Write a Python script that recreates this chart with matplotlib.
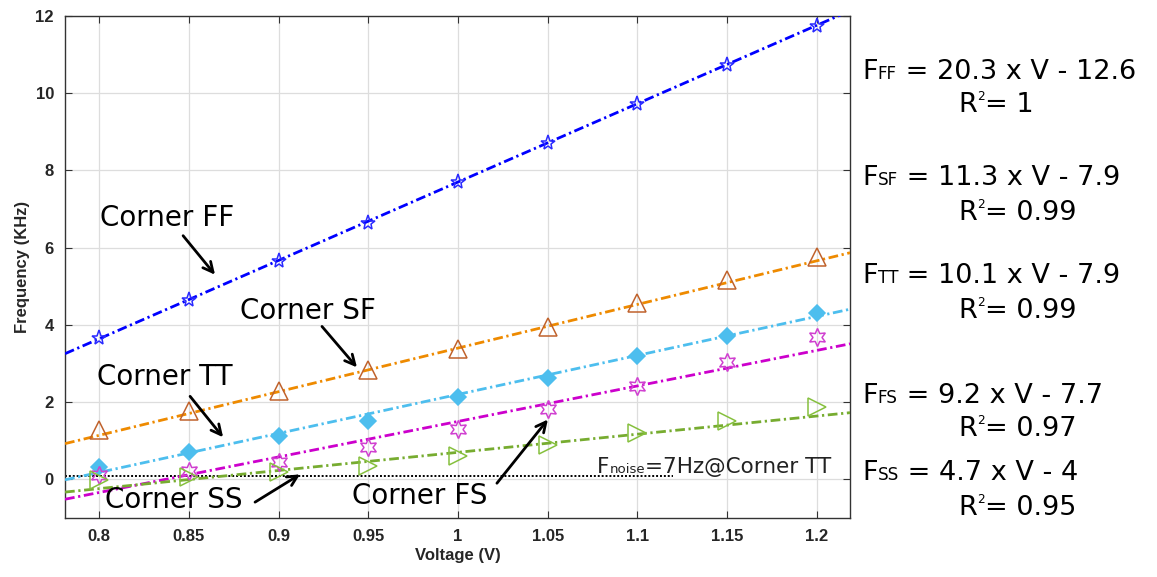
import numpy as np
import matplotlib.pyplot as plt

plt.rcParams['font.family'] = 'DejaVu Sans'
plt.rcParams['mathtext.fontset'] = 'dejavusans'

# data
volt = [0.8, 0.85, 0.9, 0.95, 1.0, 1.05, 1.1, 1.15, 1.2]
f_ff = [3.65, 4.65, 5.65, 6.65, 7.7, 8.7, 9.72, 10.73, 11.75]
f_sf = [1.28, 1.78, 2.28, 2.83, 3.38, 3.95, 4.56, 5.16, 5.75]
f_tt = [0.33, 0.71, 1.13, 1.5, 2.13, 2.63, 3.2, 3.71, 4.31]
f_fs = [0.1, 0.22, 0.45, 0.83, 1.3, 1.82, 2.43, 3.04, 3.69]
f_ss = [-0.02, 0.05, 0.18, 0.35, 0.6, 0.89, 1.19, 1.52, 1.87]

corners = ['FF', 'SF', 'TT', 'FS', 'SS']
slopes = [20.3, 11.3, 10.1, 9.2, 4.7]
intercepts = [-12.6, -7.9, -7.9, -7.7, -4]
r2 = ['1', '0.99', '0.99', '0.97', '0.95']
noise_level = 0.08  # drawn level of the 7 Hz noise floor

series = [f_ff, f_sf, f_tt, f_fs, f_ss]
line_cols = ['#0000ff', '#ee8a00', '#4dbeee', '#cc00cc', '#77ac30']
mark_cols = ['#2a2aff', '#c0622c', '#4dbeee', '#d040d0', '#86c03e']
markers = ['*', '^', 'D', (6, 1, 0), '>']
msizes = [11, 13, 8, 13, 13]
filled = [False, False, True, False, False]

W, H = 1157, 577
fig = plt.figure(figsize=(W / 100, H / 100), dpi=100)
ax = fig.add_axes([0.0562, 0.1023, 0.6785, 0.870])
renderer = fig.canvas.get_renderer()


def sub_text(px, py, base, sub, rest, size, rise=0, **kw):
    # text with a small letter group after the base, on the baseline (or raised)
    t = fig.text(px / W, 1 - py / H, base, fontsize=size, va='baseline', **kw)
    x = t.get_window_extent(renderer).x1
    t = fig.text(x / W, 1 - (py - rise) / H, sub, fontsize=size * (0.62 if rise == 0 else 0.45),
                 va='baseline', **kw)
    x = t.get_window_extent(renderer).x1
    fig.text(x / W, 1 - py / H, rest, fontsize=size, va='baseline', **kw)


xlim = (0.781, 1.2185)
xx = np.array(xlim)
for i in range(5):
    ax.plot(xx, slopes[i] * xx + intercepts[i], color=line_cols[i], lw=2,
            linestyle=(0, (3.5, 1.3, 0.8, 1.3)), zorder=3)
    ax.plot(volt, series[i], linestyle='none', marker=markers[i], ms=msizes[i],
            markerfacecolor=mark_cols[i] if filled[i] else 'none',
            markeredgecolor=mark_cols[i], markeredgewidth=1.1, zorder=4)

ax.plot([xlim[0], 1.12], [noise_level, noise_level], color='black', lw=1.4,
        linestyle=(0, (1, 1)), zorder=2)

ax.set_xlim(xlim)
ax.set_ylim(-1, 12)
ax.set_xticks(volt)
ax.set_xticklabels(['0.8', '0.85', '0.9', '0.95', '1', '1.05', '1.1', '1.15', '1.2'])
ax.set_yticks([0, 2, 4, 6, 8, 10, 12])
ax.grid(True, color='#dddddd', lw=0.9)
ax.set_axisbelow(True)
ax.tick_params(direction='in', top=True, right=True, length=5, color='#333333',
               labelsize=12, labelcolor='#262626', pad=8)
for lab in ax.get_xticklabels() + ax.get_yticklabels():
    lab.set_fontweight('bold')
    lab.set_family('Liberation Sans')
for s in ax.spines.values():
    s.set_color('#333333')
    s.set_linewidth(1)
ax.set_xlabel('Voltage (V)', fontsize=12, fontweight='bold', color='#262626',
              family='Liberation Sans', labelpad=3)
ax.set_ylabel('Frequency (KHz)', fontsize=12, fontweight='bold', color='#262626',
              family='Liberation Sans', labelpad=4)

# corner labels with arrows (text pos, arrow tail, arrow head)
arr = dict(arrowstyle='->', color='black', lw=2, mutation_scale=18, shrinkA=0, shrinkB=0)
ann = [('Corner FF', (0.8006, 6.78), (0.8468, 6.31), (0.8646, 5.30)),
       ('Corner SF', (0.8786, 4.37), (0.9242, 3.96), (0.9437, 2.90)),
       ('Corner TT', (0.7989, 2.66), (0.8507, 2.15), (0.8691, 1.09)),
       ('Corner SS', (0.8033, -0.54), (0.8869, -0.59), (0.912, 0.13)),
       ('Corner FS', (0.941, -0.44), (1.0217, -0.10), (1.0501, 1.55))]
for txt, tpos, tail, head in ann:
    ax.text(tpos[0], tpos[1], txt, fontsize=20, ha='left', va='center', zorder=6)
    ax.annotate('', xy=head, xytext=tail, arrowprops=arr, zorder=6)

# noise floor label
sub_text(597, 473, 'F', 'noise', '=7Hz@Corner TT', 15.5, color='#222222')

# fit equations on the right
eq_base = [79, 185, 283, 403, 480]
r2_base = [112, 220, 318, 436, 515]
for i in range(5):
    sign = '-' if intercepts[i] < 0 else '+'
    sub_text(862, eq_base[i], 'F', corners[i],
             ' = %g x V %s %g' % (slopes[i], sign, abs(intercepts[i])), 19.5)
    sub_text(958, r2_base[i], 'R', '2', '= %s' % r2[i], 19.5, rise=12)

fig.savefig('out.png', dpi=100)
